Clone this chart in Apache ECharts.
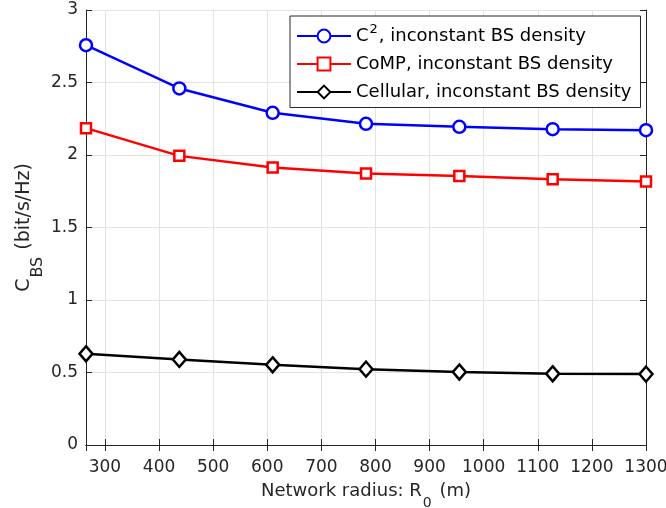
<!DOCTYPE html>
<html>
<head>
<meta charset="utf-8">
<script src="https://cdn.jsdelivr.net/npm/echarts@6/dist/echarts.min.js"></script>
<style>
  html, body { margin: 0; padding: 0; background: #fff; }
  #chart { width: 666px; height: 508px; }
</style>
</head>
<body>
<div id="chart"></div>
<script>
  // network radius R0 (m)
  const radius = [265, 437.5, 610, 782.5, 955, 1127.5, 1300]
  // C_BS (bit/s/Hz)
  const c2Data = [2.757, 2.459, 2.291, 2.215, 2.194, 2.178, 2.171]
  const compData = [2.185, 1.994, 1.914, 1.873, 1.855, 1.832, 1.818]
  const cellData = [0.629, 0.590, 0.553, 0.523, 0.503, 0.491, 0.489]
  const names = ['C2', 'CoMP', 'Cellular']
  const yTicks = ['0', '0.5', '1', '1.5', '2', '2.5', '3']

  const font = 'DejaVu Sans, Liberation Sans, sans-serif'
  const axisColor = '#262626'
  const gridColor = '#e3e3e3'

  const pairs = (ys) => radius.map((x, i) => [x, ys[i]])

  const chart = echarts.init(document.getElementById('chart'))

  const baseX = {
    type: 'value',
    min: 265,
    max: 1300,
    splitNumber: 10,
    axisLine: { show: true, lineStyle: { color: axisColor, width: 1 } },
    axisTick: { show: true, inside: true, length: 6, lineStyle: { color: axisColor } },
    splitLine: { show: true, lineStyle: { color: gridColor, width: 1 } }
  }
  const baseY = {
    type: 'value',
    min: 0,
    max: 3,
    interval: 0.5,
    axisLine: { show: true, lineStyle: { color: axisColor, width: 1 } },
    axisTick: { show: true, inside: true, length: 6, lineStyle: { color: axisColor } },
    splitLine: { show: true, lineStyle: { color: gridColor, width: 1 } }
  }

  const option = {
    animation: false,
    backgroundColor: '#fff',
    textStyle: { fontFamily: font },
    grid: { left: 86, right: 20, top: 10, bottom: 63, containLabel: false, outerBoundsMode: 'none' },
    legend: {
      orient: 'vertical',
      left: 290,
      top: 16,
      padding: [7.5, 9, 6.5, 6],
      itemGap: 10,
      itemWidth: 54,
      itemHeight: 16,
      backgroundColor: '#fff',
      borderColor: axisColor,
      borderWidth: 1,
      data: names,
      formatter: (n) => {
        if (n === 'C2') return '{t|C}{sup|2}{t|, inconstant BS density}'
        return '{t|' + n + ', inconstant BS density}'
      },
      textStyle: {
        color: '#000',
        fontSize: 18,
        fontFamily: font,
        rich: {
          t: { fontSize: 18, fontFamily: font, color: '#000' },
          sup: { fontSize: 13, fontFamily: font, color: '#000', padding: [0, 1, 12, 1] }
        }
      }
    },
    xAxis: [
      Object.assign({}, baseX, {
        position: 'bottom',
        name: '{t|Network radius: R}{sub|0}{t| (m)}',
        nameLocation: 'middle',
        nameGap: 27,
        nameMoveOverlap: false,
        nameTextStyle: {
          rich: {
            t: { fontSize: 18, fontFamily: font, color: axisColor },
            sub: { fontSize: 14, fontFamily: font, color: axisColor, padding: [24, 2, 0, 1] }
          }
        },
        axisLabel: {
          color: axisColor,
          fontSize: 17,
          fontFamily: font,
          margin: 14,
          formatter: (v) => (v % 100 === 0 ? String(v) : '')
        }
      }),
      Object.assign({}, baseX, {
        position: 'top',
        axisLabel: { show: false },
        splitLine: { show: false }
      })
    ],
    yAxis: [
      Object.assign({}, baseY, {
        position: 'left',
        name: '{t|C}{sub|BS}{t| (bit/s/Hz)}',
        nameLocation: 'middle',
        nameGap: 40,
        nameMoveOverlap: false,
        nameTextStyle: {
          rich: {
            t: { fontSize: 19, fontFamily: font, color: axisColor },
            sub: { fontSize: 16, fontFamily: font, color: axisColor, padding: [28, 1, 0, 1] }
          }
        },
        axisLabel: {
          color: axisColor,
          fontSize: 17,
          fontFamily: font,
          margin: 8,
          formatter: (v) => yTicks[Math.round(v * 2)]
        }
      }),
      Object.assign({}, baseY, {
        position: 'right',
        axisLabel: { show: false },
        splitLine: { show: false }
      })
    ],
    series: [
      {
        name: 'C2',
        type: 'line',
        data: pairs(c2Data),
        symbol: 'circle',
        symbolSize: 12,
        lineStyle: { color: '#0000ff', width: 2.5 },
        itemStyle: { color: '#fff', borderColor: '#0000ff', borderWidth: 2.5 },
        z: 5
      },
      {
        name: 'CoMP',
        type: 'line',
        data: pairs(compData),
        symbol: 'rect',
        symbolSize: 10,
        lineStyle: { color: '#ff0000', width: 2.5 },
        itemStyle: { color: '#fff', borderColor: '#ff0000', borderWidth: 2.5 },
        z: 5
      },
      {
        name: 'Cellular',
        type: 'line',
        data: pairs(cellData),
        symbol: 'diamond',
        symbolSize: [13, 15],
        lineStyle: { color: '#000', width: 2.5 },
        itemStyle: { color: '#fff', borderColor: '#000', borderWidth: 2.5 },
        z: 5
      }
    ]
  }

  chart.setOption(option)
  window.onresize = () => {
    chart.resize()
  }
</script>
</body>
</html>
